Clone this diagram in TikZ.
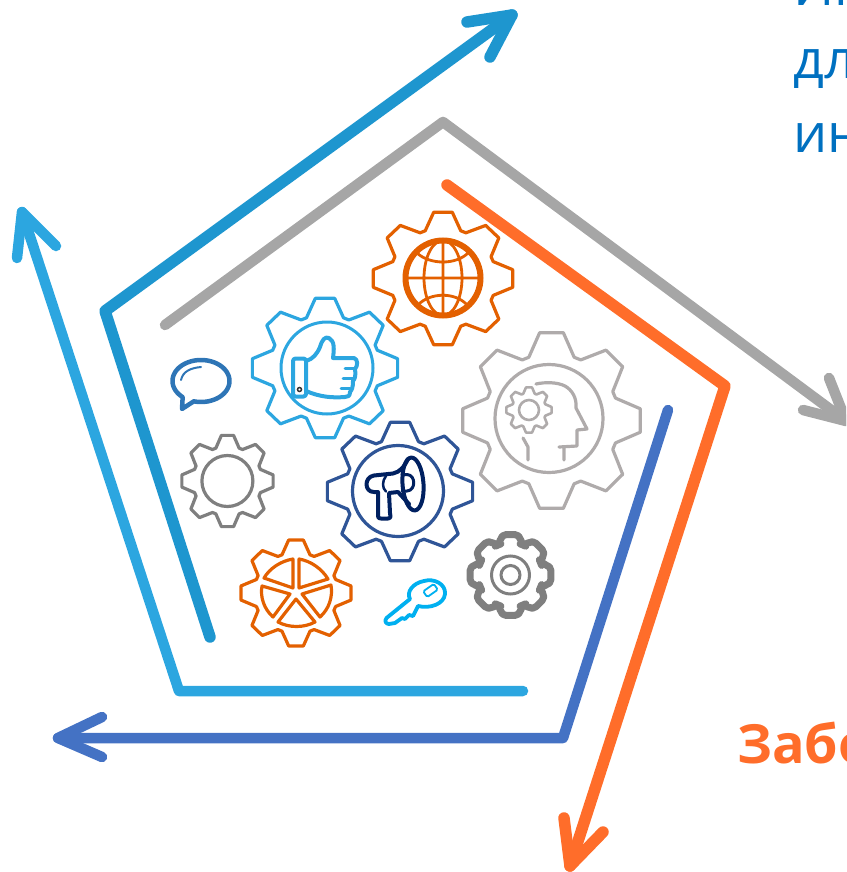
\documentclass[tikz,border=0pt]{standalone}
\usepackage{fontspec}
\setmainfont{Open Sans}
\definecolor{arrowblue}{HTML}{1E96CF}
\definecolor{arrowgray}{HTML}{A6A6A6}
\definecolor{arroworange}{HTML}{FF6D2A}
\definecolor{arrowmid}{HTML}{4472C4}
\definecolor{arrowlight}{HTML}{2CA6E0}
\definecolor{gearorange}{HTML}{E36000}
\definecolor{gearblue}{HTML}{2CA6E0}
\definecolor{geargray}{HTML}{AFABAB}
\definecolor{gearnavy}{HTML}{2F5597}
\definecolor{navy}{HTML}{002060}
\definecolor{midgray}{HTML}{7F7F7F}
\definecolor{keyblue}{HTML}{00B0F0}
\definecolor{bubble}{HTML}{2E75B6}
\definecolor{textblue}{HTML}{0070C0}
\newcommand\gearshape[5]{%
  \draw[#5,shift={(#1,#2)},x=#3pt,y=#4pt] (-19.5:.75)
    \foreach \a in {0,45,...,315} {-- (\a-19.5:.75) -- (\a-7.6:.99) -- (\a+7.6:.99) -- (\a+19.5:.75)} -- cycle;}
\tikzset{
  shaft/.style={line width=#1,line cap=round,line join=round},
  barb/.style={line width=#1,line cap=round,line join=round},
  icon/.style={line join=round,line cap=round},
  gearline/.style={line width=3.2pt,line join=round},
  label/.style={anchor=base west,inner sep=0pt,font=\fontsize{54}{54}\selectfont}
}
\begin{document}
\begin{tikzpicture}[x=1pt,y=-1pt]
\useasboundingbox (0,0) rectangle (846,872);
\clip (0,0) rectangle (846,872);
% connector corner points
\coordinate (b0) at (210,637); \coordinate (b1) at (105,311); \coordinate (b2) at (512,15);
\coordinate (b3) at (467,22);  \coordinate (b4) at (490,57);
\coordinate (g0) at (165,325); \coordinate (g1) at (443,122); \coordinate (g2) at (846,421);
\coordinate (g3) at (803,410); \coordinate (g4) at (829,378);
\coordinate (o0) at (447,185); \coordinate (o1) at (725,386); \coordinate (o2) at (570,866);
\coordinate (o3) at (564,818); \coordinate (o4) at (603,832);
\coordinate (m0) at (668,410); \coordinate (m1) at (563,738); \coordinate (m2) at (58,738);
\coordinate (m3) at (102,717); \coordinate (m4) at (102,757);
\coordinate (l0) at (523,691); \coordinate (l1) at (179,691); \coordinate (l2) at (22,212);
\coordinate (l3) at (17,258);  \coordinate (l4) at (56,246);
% connectors
\draw[shaft=10.5pt,arrowlight] (l0) -- (l1) -- (l2);
\draw[barb=10.5pt,arrowlight] (l3) -- (l2) -- (l4);
\draw[shaft=11.5pt,arrowblue] (b0) -- (b1) -- (b2);
\draw[barb=11.5pt,arrowblue] (b3) -- (b2) -- (b4);
\draw[shaft=10.5pt,arrowgray] (g0) -- (g1) -- (g2);
\draw[barb=10.5pt,arrowgray] (g3) -- (g2) -- (g4);
\draw[shaft=10.5pt,arrowmid] (m0) -- (m1) -- (m2);
\draw[barb=10.5pt,arrowmid] (m3) -- (m2) -- (m4);
\draw[shaft=11.5pt,arroworange] (o0) -- (o1) -- (o2);
\draw[barb=11.5pt,arroworange] (o3) -- (o2) -- (o4);
% texts
\node[label,text=textblue] (t1) at (793,6) {Ин};
\node[label,text=textblue] (t2) at (793,79) {дл};
\node[label,text=textblue] (t3) at (793,153) {ин};
\node[label,text=arroworange,font=\fontsize{54}{54}\selectfont\bfseries] (t4) at (737,763) {Забо};
% globe gear
\gearshape{443}{278.5}{71}{67.5}{gearorange,gearline}
\draw[gearorange,line width=6pt] (443,278) circle[radius=37.5];
\draw[gearorange,line width=2.8pt] (405,278) -- (481,278) (443,240) -- (443,316)
  (443,278) circle[x radius=19,y radius=37.5]
  (417,253) .. controls (430,265) and (456,265) .. (468,253)
  (418,305) .. controls (430,292) and (456,292) .. (467,305);
% thumb gear
\gearshape{325}{368}{74}{71}{gearblue,gearline}
\draw[gearblue,line width=3pt] (327,368) circle[radius=46];
\draw[gearblue,line width=4pt,icon,rounded corners=2.5pt] (293,358.5) -- (306,358.5) -- (306,396.5) -- (293,396.5) -- cycle;
\draw[gearblue,line width=4pt,icon] (306,361)
  .. controls (313,359) and (317,354) .. (320,347)
  .. controls (322,340) and (325,336) .. (329,338)
  .. controls (335,341) and (334,350) .. (333,358)
  -- (354,358) .. controls (358,359) and (358,366) .. (355,369)
  .. controls (356,375) and (355,379) .. (353,381)
  .. controls (353,387) and (352,390) .. (350,392)
  .. controls (350,396) and (348,397) .. (345,397)
  .. controls (332,398) and (320,397) .. (306,391);
\draw[gearblue,line width=3pt,icon] (345,368.5) -- (355,368.5) (343,378.5) -- (353,378.5) (341,388) -- (350,388);
\draw[black!80,line width=1.5pt] (299.5,389.5) circle[radius=2];
% head gear
\gearshape{551.5}{420.5}{90.5}{89.5}{geargray,gearline}
\draw[geargray,line width=3.2pt] (549,418.5) circle[radius=54];
\gearshape{529}{410}{23}{23}{geargray,line width=2.6pt,line join=round}
\draw[geargray,line width=2.6pt] (529,410) circle[radius=10];
\draw[geargray,line width=3.2pt,icon] (536,384) .. controls (545,382) and (557,382) .. (565,386)
  .. controls (572,390) and (577,398) .. (576,408) -- (587,429) -- (577,430) -- (577,446) -- (559,447)
  (564,447) -- (564,460)
  (523,438) -- (528,447) -- (528,460);
% megaphone gear
\gearshape{400}{491.5}{74}{70.5}{gearnavy,gearline}
\draw[gearnavy,line width=3.2pt] (398,491) circle[radius=45.5];
\draw[navy,line width=4pt,icon,rotate around={4:(413,484)}] (413,484) circle[x radius=10.5,y radius=26.5];
\draw[navy,line width=4pt,icon] (408,459) .. controls (404,467) and (400,472) .. (393,473.5)
  -- (374,475.5) .. controls (364,477) and (364,492) .. (374,492) -- (378,492) -- (378,516)
  .. controls (378,518) and (379,518.5) .. (381,518.5) -- (388,518.5) .. controls (391,518.5) and (391,515) .. (390,513)
  -- (389,493) -- (398,492) -- (409,504);
\draw[navy,line width=2.5pt,icon] (386,476) .. controls (382,481) and (382,488) .. (386,491.5);
\draw[navy,line width=3pt,icon] (402,474.5) -- (407,474.5) .. controls (416,475) and (416,490.5) .. (407,491) -- (402,491);
% small gray gear
\gearshape{227.5}{481}{46.5}{46.5}{midgray,gearline}
\draw[midgray,line width=3.2pt] (227.4,481) circle[radius=25.5];
% pie gear
\gearshape{296}{593}{56}{54}{gearorange,gearline}
\begin{scope}[gearorange,line width=3.2pt,line join=round]
\draw (264,578) .. controls (270,568) and (281,561) .. (293,559) -- (293,588) -- cycle;
\draw (299,559) .. controls (311,561) and (322,569) .. (328,579) -- (299,588) -- cycle;
\draw (331,585) .. controls (333,597) and (329,609) .. (320,617) -- (302,594) -- cycle;
\draw (315,622) .. controls (304,628) and (289,628) .. (278,622) -- (296,599) -- cycle;
\draw (262,586) .. controls (260,597) and (264,609) .. (273,617) -- (290,594) -- cycle;
\end{scope}
% key
\draw[keyblue,line width=3.8pt,icon] (410,599) -- (386.5,618) .. controls (384,621) and (386,624) .. (389,624)
  -- (395,623) -- (402,618) -- (405,619) -- (409,615) -- (413,616) -- (418,606)
  .. controls (430,609) and (444,604) .. (445,594)
  .. controls (446,584) and (434,578) .. (424,581)
  .. controls (413,583) and (406,592) .. (410,599) -- cycle;
\draw[keyblue,line width=1.8pt,icon,rounded corners=1.5pt,rotate around={35:(430.5,590.5)}] (424,587) rectangle (437,594);
% thick gray gear
\draw[midgray,line width=7pt,line join=round,rounded corners=5pt,shift={(510.5,575)}] (-19:32.5)
  \foreach \a in {0,45,...,315} {-- (\a-19:32.5) -- (\a-13:41.5) -- (\a+13:41.5) -- (\a+19:32.5)} -- cycle;
\draw[midgray,line width=3pt] (510.5,575) circle[radius=19] (510.5,575) circle[radius=9.5];
% speech bubble
\draw[bubble,line width=4.5pt,icon] plot[domain=105:-230,samples=80] ({201+28.5*cos(\x)},{381+21*sin(\x)}) -- (182,409) -- (193.5,401.5);
\draw[bubble,line width=2pt,icon] (181,380) .. controls (183,371) and (191,368) .. (201,367);
\end{tikzpicture}
\end{document}
